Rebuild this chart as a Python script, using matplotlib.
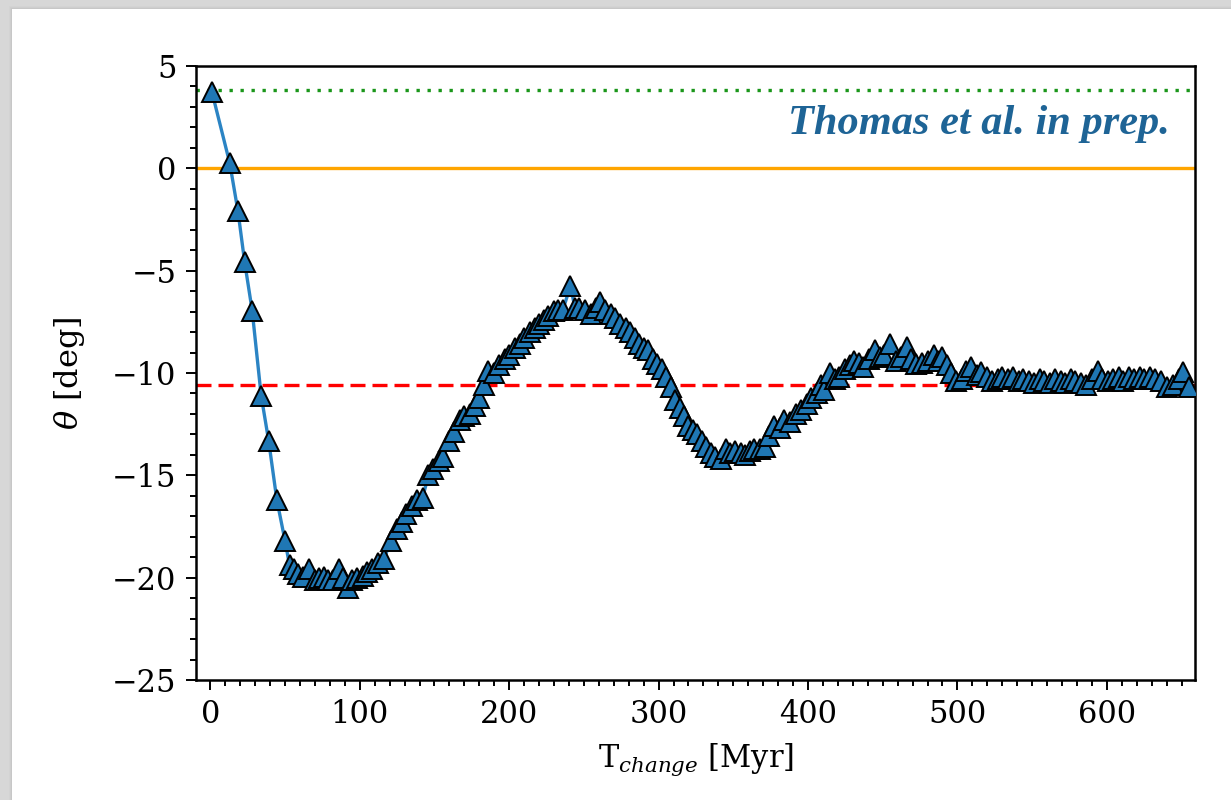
import matplotlib
matplotlib.use("Agg")
import matplotlib.pyplot as plt
from matplotlib.patches import Rectangle
from matplotlib.ticker import MultipleLocator

# ---- data ----
t_change = [1, 13, 18.5, 23, 28, 34, 39, 44.5, 50,
            53, 56, 59, 62, 66, 70, 73, 76, 79, 82, 86, 89, 92, 95, 98, 102, 105, 108, 112,
            116, 121, 125, 128, 131, 135, 138, 142, 146, 149, 153, 156, 160, 163, 167, 170,
            174, 177, 180, 183, 186, 190, 193, 197, 200, 204, 207, 210, 214, 217, 220, 223,
            226, 230, 233, 236, 241, 244, 247, 251, 255, 258, 261, 264, 268, 271, 274, 278,
            281, 284, 287, 290, 293, 296, 299, 302, 305, 308, 311, 314, 317, 320, 323, 326,
            329, 332, 335, 338, 342, 345, 348, 351, 355, 358, 361, 364, 368, 371, 374, 377,
            381, 384, 388, 392, 395, 399, 402, 406, 409, 411, 415, 418, 421, 425, 428, 431,
            434, 437, 441, 445, 448, 451, 455, 459, 462, 466, 469, 472, 476, 480, 484, 487,
            490, 493, 496, 499, 503, 506, 509, 513, 516, 520, 523, 527, 530, 534, 537, 541,
            544, 548, 551, 555, 558, 562, 565, 569, 572, 576, 579, 583, 586, 590, 594, 597,
            601, 604, 608, 611, 615, 618, 622, 625, 629, 632, 636, 640, 644, 648, 651, 655]
theta = [3.75, 0.25, -2.1, -4.6, -6.95, -11.1, -13.3, -16.2, -18.2,
         -19.4, -19.6, -19.8, -19.95, -19.6, -20.1, -20.0, -19.95, -20.1, -20.1, -19.6, -20.0, -20.5, -20.1, -20.0, -19.9, -19.7, -19.6, -19.3,
         -19.1, -18.2, -17.6, -17.3, -16.9, -16.5, -16.2, -16.1, -15.0, -14.7, -14.3, -14.1, -13.3, -12.9, -12.3, -12.1,
         -12.0, -11.6, -11.2, -10.6, -9.9, -10.0, -9.6, -9.3, -9.1, -8.8, -8.6, -8.3, -8.0, -7.8, -7.6, -7.4,
         -7.2, -6.95, -6.9, -6.9, -5.75, -6.8, -6.8, -6.9, -7.1, -6.8, -6.55, -6.9, -7.1, -7.3, -7.6, -7.8,
         -8.0, -8.3, -8.6, -8.8, -8.9, -9.3, -9.55, -9.8, -10.2, -10.7, -11.3, -11.7, -12.1, -12.6, -12.8, -13.0,
         -13.3, -13.6, -13.9, -14.1, -14.2, -13.7, -13.9, -13.8, -13.9, -14.0, -13.8, -13.7, -13.7, -13.6, -13.1, -12.6,
         -12.7, -12.3, -12.4, -12.0, -11.8, -11.5, -11.2, -11.0, -10.6, -10.85, -10.0, -10.3, -10.2, -9.8, -9.6, -9.4,
         -9.5, -9.7, -9.3, -8.9, -9.2, -9.1, -8.6, -9.4, -9.2, -8.75, -9.3, -9.55, -9.5, -9.4, -9.1, -9.4,
         -9.2, -9.6, -10.0, -10.4, -10.3, -9.9, -9.7, -10.1, -9.95, -10.2, -10.4, -10.3, -10.2, -10.3, -10.2, -10.4,
         -10.3, -10.4, -10.5, -10.3, -10.4, -10.5, -10.3, -10.4, -10.5, -10.3, -10.4, -10.5, -10.6, -10.3, -9.9, -10.3,
         -10.4, -10.3, -10.2, -10.4, -10.2, -10.3, -10.2, -10.3, -10.2, -10.3, -10.4, -10.7, -10.6, -10.3, -9.96, -10.7]

theta_initial = 3.85      # green dotted
theta_zero = 0.0          # orange
theta_final = -10.6       # red dashed

x_ticks = [0, 100, 200, 300, 400, 500, 600]
y_ticks = [-25, -20, -15, -10, -5, 0, 5]
annotation = "Thomas et al. in prep."

plt.rcParams['font.family'] = ['DejaVu Serif']
plt.rcParams['mathtext.fontset'] = 'dejavuserif'

W, H = 1231, 800
fig = plt.figure(figsize=(W / 100, H / 100), dpi=100, facecolor='#d7d7d7')

# card with a soft shadow
for i, a in enumerate([0.05, 0.08, 0.12]):
    off = 3 - i
    fig.patches.append(Rectangle(((12 - off) / W, 0), 1, (H - 9 + off) / H,
                                 transform=fig.transFigure, facecolor='#9a9a9a',
                                 alpha=a, edgecolor='none', zorder=-3))
fig.patches.append(Rectangle((12 / W, 0), 1, (H - 9) / H, transform=fig.transFigure,
                             facecolor='white', edgecolor='none', zorder=-2))

ax = fig.add_axes([196 / W, 1 - 680 / H, (1195 - 196) / W, (680 - 66) / H])
ax.set_facecolor('white')

ax.axhline(theta_initial, color='#1a961a', lw=2.4, linestyle=(0, (1.0, 2.3)), zorder=1)
ax.axhline(theta_zero, color='orange', lw=2.4, zorder=1)
ax.axhline(theta_final, color='red', lw=2.4, linestyle=(0, (4.5, 2.1)), zorder=1)

ax.plot(t_change, theta, color='#2b84c4', lw=2.4, marker='^', ms=15,
        markerfacecolor='#1f77b4', markeredgecolor='black', markeredgewidth=1.4, zorder=3)

ax.set_xlim(-9.6, 659)
ax.set_ylim(-25, 5)
ax.set_xticks(x_ticks)
ax.set_yticks(y_ticks)
ax.xaxis.set_minor_locator(MultipleLocator(10))
ax.yaxis.set_minor_locator(MultipleLocator(1))
ax.tick_params(which='both', direction='out', top=False, right=False, width=1.4,
               labelsize=22, color='black')
ax.tick_params(which='major', length=7, pad=7)
ax.tick_params(which='minor', length=4)
for s in ax.spines.values():
    s.set_linewidth(1.8)

ax.set_xlabel(r'T$_{change}$ [Myr]', fontsize=22, labelpad=8)
ax.set_ylabel(r'$\theta$ [deg]', fontsize=23, labelpad=18)

ax.text(0.975, 0.905, annotation, transform=ax.transAxes, ha='right', va='center',
        fontsize=30.5, fontweight='bold', fontstyle='italic', color='#1e6496',
        family=['Liberation Serif', 'DejaVu Serif'], zorder=4)

fig.savefig('out.png', dpi=100, facecolor=fig.get_facecolor())
